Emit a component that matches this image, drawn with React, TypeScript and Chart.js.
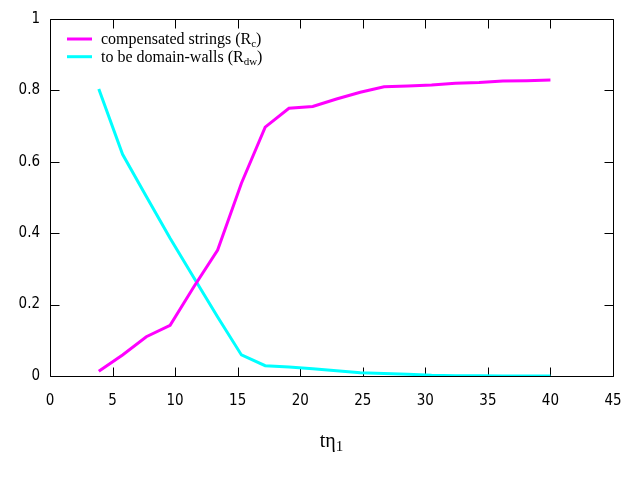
import { useEffect, useRef } from 'react';
import { Chart, registerables } from 'chart.js';

Chart.register(...registerables);

// time steps (t eta_1)
const times = [3.9, 5.8, 7.7, 9.6, 11.5, 13.4, 15.3, 17.2, 19.1, 21.0, 22.9, 24.8, 26.7, 28.6, 30.5, 32.4, 34.3, 36.2, 38.1, 40.0];
const compensated = [0.013, 0.059, 0.110, 0.142, 0.25, 0.353, 0.54, 0.697, 0.75, 0.755, 0.776, 0.795, 0.81, 0.812, 0.815, 0.82, 0.822, 0.826, 0.827, 0.829];
const domainWalls = [0.804, 0.621, 0.503, 0.386, 0.275, 0.165, 0.059, 0.029, 0.025, 0.02, 0.015, 0.009, 0.007, 0.005, 0.002, 0.001, 0.001, 0, 0, 0];

const seriesLabels = ['compensated strings (R', 'to be domain-walls (R'];
const seriesSubs = ['c', 'dw'];
const seriesColors = ['#ff00ff', '#00ffff'];
const xTitle = 'tη';
const xTitleSub = '1';

const SERIF = '"Liberation Serif", "Times New Roman", serif';
const SANS = '"DejaVu Sans Condensed", "DejaVu Sans", sans-serif';

// border + inward ticks on all four sides, like gnuplot
const framePlugin = {
  id: 'frame',
  beforeDatasetsDraw(chart) {
    const { ctx, chartArea: a, scales } = chart;
    const x = scales.x;
    const y = scales.y;
    const L = Math.round(a.left) + 0.5;
    const R = Math.round(a.right) + 0.5;
    const T = Math.round(a.top) + 0.5;
    const B = Math.round(a.bottom) + 0.5;
    ctx.save();
    ctx.strokeStyle = '#000';
    ctx.lineWidth = 1;
    ctx.beginPath();
    ctx.rect(L, T, R - L, B - T);
    x.ticks.forEach(t => {
      const px = Math.round(x.getPixelForValue(t.value)) + 0.5;
      ctx.moveTo(px, B); ctx.lineTo(px, B - 9);
      ctx.moveTo(px, T); ctx.lineTo(px, T + 9);
    });
    y.ticks.forEach(t => {
      const py = Math.round(y.getPixelForValue(t.value)) + 0.5;
      ctx.moveTo(L, py); ctx.lineTo(L + 9, py);
      ctx.moveTo(R, py); ctx.lineTo(R - 9, py);
    });
    ctx.stroke();
    ctx.restore();
  },
  afterDraw(chart) {
    const { ctx, chartArea: a } = chart;
    ctx.save();
    ctx.fillStyle = '#000';
    ctx.textBaseline = 'alphabetic';

    // legend
    seriesLabels.forEach((label, i) => {
      const ly = 39 + i * 17.7;
      ctx.strokeStyle = seriesColors[i];
      ctx.lineWidth = 3;
      ctx.beginPath();
      ctx.moveTo(67, ly);
      ctx.lineTo(92, ly);
      ctx.stroke();
      ctx.font = `16px ${SERIF}`;
      const base = ly + 5;
      ctx.fillText(label, 101, base);
      let w = ctx.measureText(label).width;
      ctx.font = `11px ${SERIF}`;
      ctx.fillText(seriesSubs[i], 101 + w, base + 3);
      w += ctx.measureText(seriesSubs[i]).width;
      ctx.font = `16px ${SERIF}`;
      ctx.fillText(')', 101 + w, base);
    });

    // x axis title
    ctx.font = `20px ${SERIF}`;
    const mw = ctx.measureText(xTitle).width;
    ctx.font = `15px ${SERIF}`;
    const sw = ctx.measureText(xTitleSub).width;
    const cx = (a.left + a.right) / 2;
    const sx = cx - (mw + sw) / 2;
    ctx.font = `20px ${SERIF}`;
    ctx.fillText(xTitle, sx, 447);
    ctx.font = `15px ${SERIF}`;
    ctx.fillText(xTitleSub, sx + mw, 451);
    ctx.restore();
  },
};

export default function App() {
  const canvasRef = useRef(null);

  useEffect(() => {
    const chart = new Chart(canvasRef.current, {
      type: 'line',
      data: {
        datasets: [
          {
            label: seriesLabels[0] + seriesSubs[0] + ')',
            data: times.map((t, i) => ({ x: t, y: compensated[i] })),
            borderColor: seriesColors[0],
            borderWidth: 3,
            pointRadius: 0,
            tension: 0,
          },
          {
            label: seriesLabels[1] + seriesSubs[1] + ')',
            data: times.map((t, i) => ({ x: t, y: domainWalls[i] })),
            borderColor: seriesColors[1],
            borderWidth: 3,
            pointRadius: 0,
            tension: 0,
          },
        ],
      },
      options: {
        responsive: false,
        animation: false,
        layout: { padding: { top: 19, right: 27, left: 0, bottom: 0 } },
        plugins: { legend: { display: false }, tooltip: { enabled: false } },
        scales: {
          x: {
            type: 'linear',
            min: 0,
            max: 45,
            grid: { display: false, drawTicks: false },
            border: { display: false },
            ticks: { stepSize: 5, padding: 16, color: '#000', font: { family: SANS, size: 15 }, maxRotation: 0 },
            afterFit: s => { s.height = 104; },
          },
          y: {
            min: 0,
            max: 1,
            grid: { display: false, drawTicks: false },
            border: { display: false },
            ticks: {
              stepSize: 0.2,
              padding: 10,
              color: '#000',
              font: { family: SANS, size: 15 },
              callback: v => String(Math.round(v * 10) / 10),
            },
            afterFit: s => { s.width = 50; },
          },
        },
      },
      plugins: [framePlugin],
    });
    return () => chart.destroy();
  }, []);

  return (
    <div style={{ position: 'absolute', left: 0, top: 0, width: 640, height: 480, background: '#fff' }}>
      <canvas ref={canvasRef} width={640} height={480} />
    </div>
  );
}
